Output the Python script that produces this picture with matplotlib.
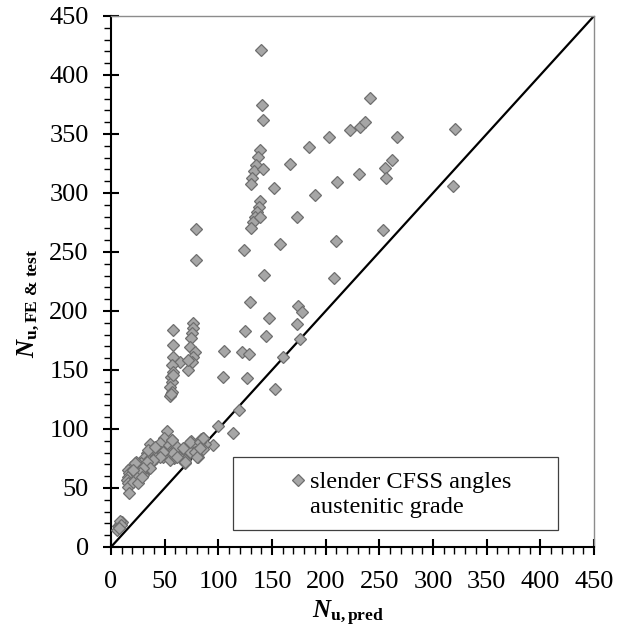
import matplotlib
matplotlib.use("Agg")
import matplotlib.pyplot as plt
from matplotlib.patches import Rectangle
from matplotlib.ticker import MultipleLocator

plt.rcParams["font.family"] = ["Liberation Serif", "DejaVu Serif"]
plt.rcParams["mathtext.fontset"] = "custom"
plt.rcParams["mathtext.rm"] = "Liberation Serif:bold"
plt.rcParams["mathtext.it"] = "Liberation Serif:italic:bold"
plt.rcParams["mathtext.bf"] = "Liberation Serif:bold"
plt.rcParams["mathtext.default"] = "bf"

# Predicted capacity (kN) vs. FE / test capacity (kN) for slender CFSS angles
n_pred = [
    139.8, 140.4, 141.3, 138.8, 136.7, 135.1, 133.2, 131.7, 130.1, 141.9,
    139.1, 137.9, 136.3, 134.4, 132.6, 138.5, 130.1, 124.2, 142.5, 129.2,
    147.5, 151.9, 157.5, 167.1, 173.3, 184.5, 190.4, 174.5, 177.7, 241.3,
    202.8, 222.4, 232.3, 237.0, 266.8, 320.5, 262.1, 255.6, 255.9, 231.1,
    210.3, 318.3, 253.4, 209.3, 207.5, 173.0, 176.1, 160.5, 153.1, 144.1,
    124.8, 122.3, 128.3, 126.4, 105.6, 104.0,
    118.9, 100.0, 113.3, 95.3, 85.4, 82.3, 84.8, 81.0, 74.2, 73.6,
    69.3, 69.6, 78.9, 78.9,
    58.1, 76.7, 76.1, 75.5, 74.8, 73.6, 57.5, 78.3, 76.7, 75.7,
    72.0, 64.3, 58.1, 56.6, 57.5, 55.9, 56.6, 55.0, 56.6, 55.0,
    72.0, 56.0, 57.5,
    52.2, 49.7, 56.8, 45.7, 36.6, 40.4, 46.6, 43.5, 38.8, 33.5,
    31.1, 34.2, 28.0, 23.3, 21.7, 18.6, 15.5, 17.1, 15.5, 15.0,
    15.5, 15.5, 17.1, 20.2, 24.8, 26.4, 24.2, 22.4, 29.5, 32.6,
    35.7, 37.3, 41.9, 48.1, 51.2, 54.3, 57.5, 55.9, 59.0, 55.3,
    62.1, 66.8, 68.9, 61.2, 57.1, 59.6, 73.9, 80.1, 83.9, 87.6,
    85.7, 78.3,
    34.8, 41.0, 58.0, 61.2, 48.7, 45.7, 39.4, 33.2, 36.3, 30.1,
    27.0, 22.4, 20.8, 23.9, 20.8, 25.5, 29.2, 73.6, 82.9, 86.0,
    68.9, 79.8, 82.9, 67.4,
    5.2, 6.5, 7.3, 8.4, 9.1, 9.8, 8.6, 9.5, 7.0,
]
n_fe_test = [
    421.2, 374.3, 361.9, 336.2, 330.2, 324.0, 318.4, 312.4, 307.6, 320.3,
    293.5, 288.1, 283.6, 279.7, 275.4, 279.9, 270.6, 251.7, 230.2, 207.4,
    194.3, 304.5, 256.8, 324.6, 279.9, 338.7, 298.6, 204.2, 199.4, 380.8,
    347.7, 353.4, 355.9, 360.2, 347.7, 354.0, 327.7, 320.9, 312.7, 316.4,
    309.6, 305.9, 268.9, 259.3, 228.0, 189.0, 176.0, 160.7, 133.9, 178.5,
    183.0, 165.3, 163.3, 142.9, 166.4, 144.3,
    116.1, 102.8, 96.3, 86.4, 92.6, 87.9, 83.6, 76.5, 89.8, 80.8,
    70.9, 83.1, 269.2, 243.2,
    183.9, 189.6, 185.3, 181.1, 176.8, 169.8, 171.2, 165.5, 161.3, 157.0,
    150.0, 157.0, 161.3, 154.2, 148.6, 144.3, 140.1, 135.8, 131.6, 128.0,
    158.5, 130.0, 146.0,
    98.6, 92.1, 90.7, 87.8, 87.3, 83.6, 80.8, 79.4, 78.0, 79.4,
    75.1, 73.7, 70.9, 72.3, 69.5, 68.1, 65.3, 62.4, 59.6, 56.8,
    53.9, 51.1, 46.0, 65.3, 66.7, 65.3, 61.0, 56.8, 61.0, 68.1,
    66.7, 70.9, 75.1, 76.5, 79.4, 86.1, 82.8, 79.4, 75.1, 73.7,
    80.8, 82.8, 73.7, 85.1, 90.7, 76.5, 80.8, 86.1, 91.2, 87.0,
    82.8, 80.8,
    82.2, 85.0, 79.4, 76.0, 80.8, 76.5, 73.7, 72.3, 66.7, 66.7,
    62.4, 70.9, 65.3, 58.2, 55.3, 54.0, 58.9, 89.2, 89.2, 92.1,
    72.3, 76.5, 83.6, 83.6,
    14.8, 17.4, 18.2, 19.6, 20.5, 21.3, 22.0, 18.6, 16.1,
]
equality_line = [0, 450]
axis_ticks = list(range(0, 451, 50))
legend_lines = ["slender CFSS angles", "austenitic grade"]

face = "#A6A6A6"
edge = "#6E6E6E"

fig = plt.figure(figsize=(6.33, 6.29), dpi=100)
ax = fig.add_axes([0.1754, 0.1304, 0.7630, 0.8442])

ax.plot(equality_line, equality_line, color="black", lw=1.6, zorder=2,
        solid_capstyle="butt")
ax.plot(n_pred, n_fe_test, linestyle="none", marker="D", markersize=6.2,
        markerfacecolor=face, markeredgecolor=edge, markeredgewidth=0.9,
        zorder=3, clip_on=False)

ax.set_xlim(0, 450)
ax.set_ylim(0, 450)
ax.set_xticks(axis_ticks)
ax.set_yticks(axis_ticks)
ax.xaxis.set_minor_locator(MultipleLocator(10))
ax.yaxis.set_minor_locator(MultipleLocator(10))

for side in ("left", "bottom"):
    ax.spines[side].set_color("black")
    ax.spines[side].set_linewidth(1.5)
for side in ("top", "right"):
    ax.spines[side].set_color("#8C8C8C")
    ax.spines[side].set_linewidth(1.0)

ax.tick_params(which="major", direction="inout", length=12, width=1.5,
               labelsize=19, colors="black")
ax.tick_params(axis="y", which="major", pad=10)
ax.tick_params(axis="x", which="major", pad=11)
ax.tick_params(which="minor", direction="out", length=5, width=1.0)

ax.set_xlabel(r"$\mathit{N}_{u,pred}$", fontsize=18)
ax.set_ylabel(r"$\mathit{N}_{u,FE\ &\ test}$", fontsize=18)
ax.xaxis.set_label_coords(0.491, -0.098)
ax.yaxis.set_label_coords(-0.143, 0.458)

# Legend box with marker and two-line description
ax.add_patch(Rectangle((0.253, 0.032), 0.672, 0.137, transform=ax.transAxes,
                       facecolor="white", edgecolor="#404040", lw=0.9,
                       zorder=4))
ax.plot([0.387], [0.126], transform=ax.transAxes, linestyle="none",
        marker="D", markersize=6.2, markerfacecolor=face,
        markeredgecolor=edge, markeredgewidth=0.9, zorder=5, clip_on=False)
ax.text(0.412, 0.111, legend_lines[0], transform=ax.transAxes, fontsize=17.5,
        va="baseline", ha="left", zorder=5)
ax.text(0.412, 0.064, legend_lines[1], transform=ax.transAxes, fontsize=17.5,
        va="baseline", ha="left", zorder=5)

fig.savefig("out.png", dpi=100)
